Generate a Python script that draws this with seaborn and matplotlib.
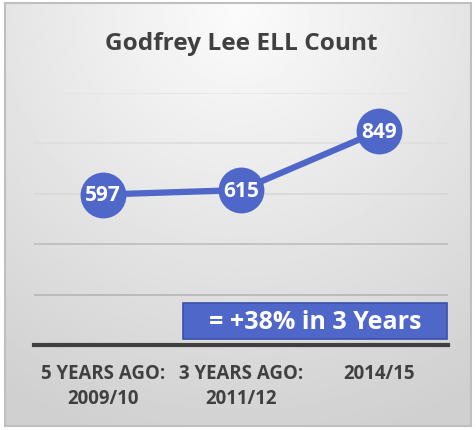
import numpy as np
import pandas as pd
import matplotlib
matplotlib.use("Agg")
import matplotlib.pyplot as plt
import seaborn as sns
from matplotlib.patches import Rectangle

categories = ["5 YEARS AGO:\n2009/10", "3 YEARS AGO:\n2011/12", "2014/15"]
counts = [597, 615, 849]
title = "Godfrey Lee ELL Count"
callout = "= +38% in 3 Years"

df = pd.DataFrame({"period": categories, "count": counts})

sns.set_style("white")
plt.rcParams["font.family"] = ["Open Sans", "DejaVu Sans"]

W, H = 476, 431
fig = plt.figure(figsize=(W / 100, H / 100), dpi=100)
fig.patch.set_facecolor("white")

# gradient background frame
bg = fig.add_axes([5 / W, 4 / H, 466 / W, 423 / H])
yy, xx = np.mgrid[0:1:200j, 0:1:200j]
r = np.sqrt(((xx - 0.5) * 1.1) ** 2 + ((yy - 0.02) * 1.0) ** 2)
shade = 0.985 - 0.17 * np.clip(r / 1.05, 0, 1)
bg.imshow(shade, cmap="gray", vmin=0, vmax=1, aspect="auto", extent=[0, 1, 1, 0])
bg.set_xlim(0, 1)
bg.set_ylim(1, 0)
bg.set_xticks([])
bg.set_yticks([])
for s in bg.spines.values():
    s.set_color("#BFBFBF")
    s.set_linewidth(1.5)
bg.set_zorder(0)

ax = fig.add_axes([34 / W, (H - 346) / H, 414 / W, 252 / H])
ax.set_zorder(1)
ax.patch.set_alpha(0)

sns.lineplot(data=df, x="period", y="count", ax=ax, color="#4F67C8",
             linewidth=4.5, marker="o", markersize=33, markeredgewidth=0,
             sort=False)

for i, v in enumerate(counts):
    ax.text(i, v, str(v), ha="center", va="center", color="white",
            fontsize=15, fontweight="bold", zorder=5)

ax.set_xlim(-0.5, 2.5)
ax.set_ylim(0, 1000)
ax.set_yticks(np.arange(0, 1001, 200))
ax.set_yticklabels([])
ax.tick_params(axis="y", length=0)
ax.grid(axis="y", linewidth=1.2)
grid_cols = ["#404040", "#B5B5B5", "#BDBDBD", "#D8D8D8", "#DEDEDE", "#E6E6E6"]
for gl, c in zip(ax.get_ygridlines(), grid_cols):
    gl.set_color(c)
ax.set_axisbelow(True)
for k in ["left", "right", "top"]:
    ax.spines[k].set_visible(False)
ax.spines["bottom"].set_color("#404040")
ax.spines["bottom"].set_linewidth(3)
ax.set_xlabel("")
ax.set_ylabel("")
ax.tick_params(axis="x", length=0, pad=13, labelsize=13.4, labelcolor="#404040")
for lbl in ax.get_xticklabels():
    lbl.set_fontweight("bold")
    lbl.set_va("top")
    lbl.set_linespacing(1.3)

ax.add_patch(Rectangle((0.36, 0.024), 0.638, 0.143, transform=ax.transAxes,
                       facecolor="#4F67C8", edgecolor="#3A50A8", linewidth=1.2,
                       zorder=4, clip_on=False))
ax.text(0.679, 0.095, callout, transform=ax.transAxes, ha="center", va="center",
        color="white", fontsize=18, fontweight="bold", zorder=5)

fig.text(241 / W, 1 - 44 / H, title, ha="center", va="center",
         fontsize=17.6, fontweight="bold", color="#404040")

fig.savefig("out.png", dpi=100)
